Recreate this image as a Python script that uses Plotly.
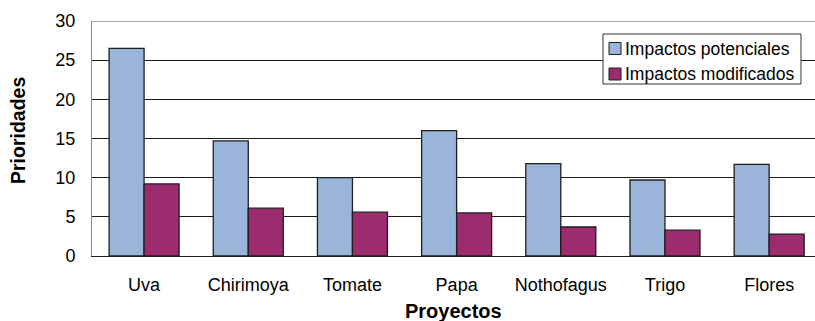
import plotly.graph_objects as go

# Project categories and priority scores per series
proyectos = ["Uva", "Chirimoya", "Tomate", "Papa", "Nothofagus", "Trigo", "Flores"]
impactos_potenciales = [26.5, 14.7, 10.0, 16.0, 11.8, 9.7, 11.7]
impactos_modificados = [9.2, 6.1, 5.6, 5.5, 3.7, 3.3, 2.8]
series_names = ["Impactos potenciales", "Impactos modificados"]
y_ticks = [0, 5, 10, 15, 20, 25, 30]

W, H = 815, 321
L, R, T, B = 92, 0, 21, 65
COL_POT = "#9AB4DA"
COL_MOD = "#9C2C6E"
FONT = "Arial, Liberation Sans, sans-serif"

fig = go.Figure()
for name, vals, col in [(series_names[0], impactos_potenciales, COL_POT),
                        (series_names[1], impactos_modificados, COL_MOD)]:
    fig.add_trace(go.Bar(
        x=proyectos, y=vals, name=name,
        marker=dict(color=col, line=dict(color="#1e1e1e", width=1.3)),
        showlegend=False,
    ))

pw, ph = W - L - R, H - T - B


def px(x):
    return (x - L) / pw


def py(y):
    return (H - B - y) / ph


shapes = [
    # grey top border of the plot area
    dict(type="line", xref="paper", yref="y", x0=0, x1=1, y0=30, y1=30,
         line=dict(color="#8a8a8a", width=1.5), layer="above"),
    # legend box
    dict(type="rect", xref="paper", yref="paper",
         x0=px(603), x1=px(801), y0=py(84), y1=py(34),
         fillcolor="white", line=dict(color="#333333", width=1), layer="above"),
]
annotations = []
rows = [(48.5, COL_POT), (74, COL_MOD)]
for (cy, col), name in zip(rows, series_names):
    shapes.append(dict(type="rect", xref="paper", yref="paper",
                       x0=px(609), x1=px(621), y0=py(cy + 6), y1=py(cy - 6),
                       fillcolor=col, line=dict(color="#1e1e1e", width=1), layer="above"))
    annotations.append(dict(xref="paper", yref="paper", x=px(623), y=py(cy),
                            xanchor="left", yanchor="middle", showarrow=False,
                            text=name, font=dict(family=FONT, size=17.5, color="black")))

# axis titles
annotations.append(dict(xref="paper", yref="paper", x=px(453.5), y=py(311),
                        xanchor="center", yanchor="middle", showarrow=False,
                        text="<b>Proyectos</b>", font=dict(family=FONT, size=20, color="black")))
annotations.append(dict(xref="paper", yref="paper", x=px(18), y=py(131),
                        xanchor="center", yanchor="middle", showarrow=False, textangle=-90,
                        text="<b>Prioridades</b>", font=dict(family=FONT, size=19.5, color="black")))

fig.update_layout(
    width=W, height=H,
    margin=dict(l=L, r=R, t=T, b=B, pad=0),
    paper_bgcolor="white", plot_bgcolor="white",
    barmode="group", bargap=0.328, bargroupgap=0,
    font=dict(family=FONT, size=18, color="black"),
    shapes=shapes, annotations=annotations,
    showlegend=False,
)
fig.update_xaxes(
    range=[-0.5, 6.44], showgrid=False, showline=True, linecolor="#1e1e1e", linewidth=1,
    ticks="", ticklabelstandoff=12, tickfont=dict(family=FONT, size=18, color="black"),
)
fig.update_yaxes(
    range=[0, 30], tickvals=y_ticks, showgrid=True, gridcolor="#1a1a1a", gridwidth=1,
    zeroline=False, showline=True, linecolor="#8a8a8a", linewidth=1,
    ticks="", ticklabelstandoff=12, tickfont=dict(family=FONT, size=18, color="black"),
)

fig.write_html("out.html")
